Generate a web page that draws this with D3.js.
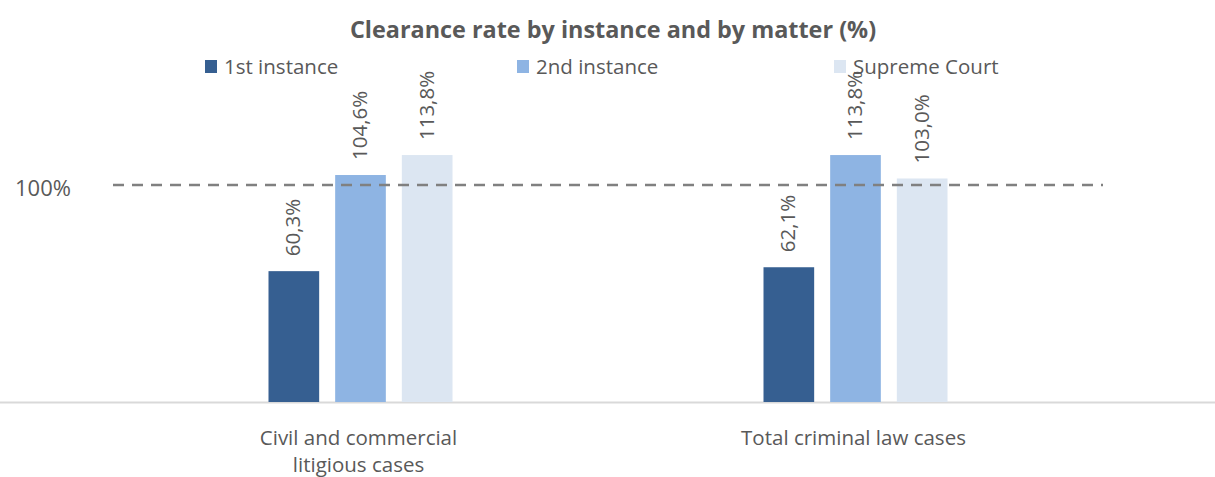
<!DOCTYPE html>
<html><head><meta charset="utf-8">
<script src="https://cdn.jsdelivr.net/npm/d3@7"></script>
<style>body{margin:0;background:#fff}svg{display:block}text{font-family:"Open Sans",sans-serif;fill:#595959}</style>
</head><body><svg id="c" width="1215" height="477"></svg>
<script>
const categories = ["Civil and commercial|litigious cases", "Total criminal law cases"];
const seriesNames = ["1st instance", "2nd instance", "Supreme Court"];
const firstInstance = [60.3, 62.1];
const secondInstance = [104.6, 113.8];
const supremeCourt = [113.8, 103.0];
const refValue = 100;
const refLabel = "100%";
const colors = ["#365F91", "#8EB4E3", "#DCE6F2"];

const values = [firstInstance, secondInstance, supremeCourt];
const svg = d3.select("#c");
const W = 1215;
const x = d3.scaleBand().domain(categories).range([113, 1103]).padding(0);
const xi = d3.scaleBand().domain(seriesNames).range([0, 184]).paddingInner(0.24);
const y = d3.scaleLinear().domain([0, 100]).range([402, 185]);

// title
svg.append("text").attr("x", 613).attr("y", 38).attr("text-anchor", "middle")
  .style("font-size", "23.4px").style("font-weight", "bold").text("Clearance rate by instance and by matter (%)");

// legend
const legX = [205, 517, 834];
seriesNames.forEach((s, i) => {
  svg.append("rect").attr("x", legX[i]).attr("y", 60).attr("width", 12).attr("height", 13).attr("fill", colors[i]);
  svg.append("text").attr("x", legX[i] + 19).attr("y", 74).style("font-size", "20.5px").text(s);
});

// axis baseline
svg.append("line").attr("x1", 0).attr("x2", W).attr("y1", y(0) + 0.5).attr("y2", y(0) + 0.5)
  .attr("stroke", "#d9d9d9").attr("stroke-width", 2);

// bars
categories.forEach((c, ci) => {
  const gx = x(c) + x.bandwidth() / 2 - 184 / 2;
  seriesNames.forEach((s, si) => {
    const v = values[si][ci];
    const bx = gx + xi(s);
    svg.append("rect").attr("x", bx).attr("y", y(v)).attr("width", xi.bandwidth()).attr("height", y(0) - y(v)).attr("fill", colors[si]);
    svg.append("text").attr("transform", `translate(${bx + xi.bandwidth() / 2 + 1},${y(v) - 15}) rotate(-90)`)
      .attr("dominant-baseline", "middle").style("font-size", "20.5px")
      .text(d3.format(".1f")(v).replace(".", ",") + "%");
  });
  const lines = c.split("|");
  lines.forEach((l, li) => {
    svg.append("text").attr("x", x(c) + x.bandwidth() / 2 - 2).attr("y", 445 + li * 27).attr("text-anchor", "middle")
      .style("font-size", "20.5px").text(l);
  });
});

// reference line
svg.append("line").attr("x1", 113).attr("x2", 1103).attr("y1", y(refValue)).attr("y2", y(refValue))
  .attr("stroke", "#808080").attr("stroke-width", 2.5).attr("stroke-dasharray", "11,8");
svg.append("text").attr("x", 15).attr("y", 196).style("font-size", "22px").text(refLabel);
</script></body></html>
